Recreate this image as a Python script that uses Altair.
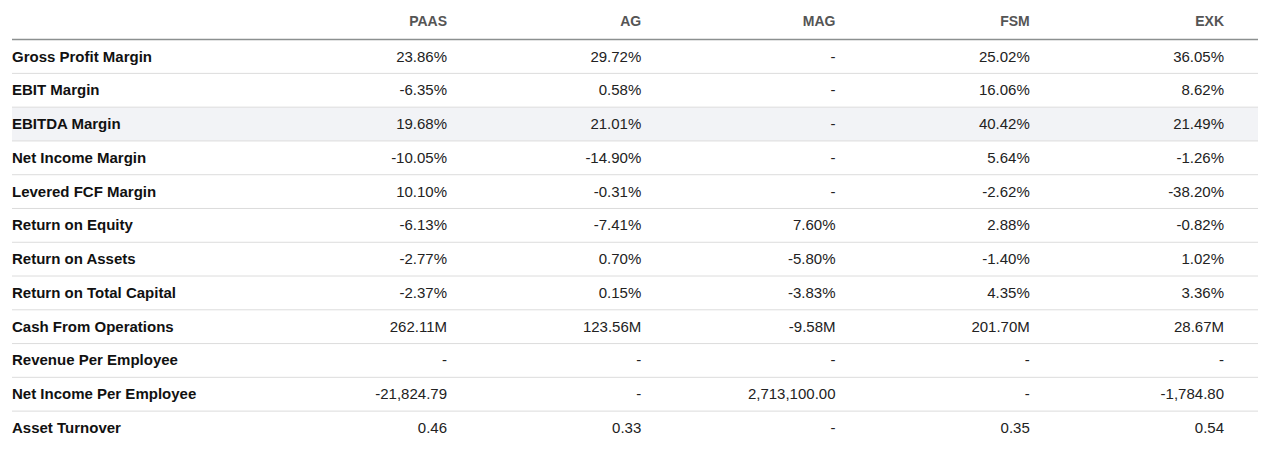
import altair as alt
import pandas as pd

tickers = ["PAAS", "AG", "MAG", "FSM", "EXK"]
metrics = [
    "Gross Profit Margin", "EBIT Margin", "EBITDA Margin", "Net Income Margin",
    "Levered FCF Margin", "Return on Equity", "Return on Assets",
    "Return on Total Capital", "Cash From Operations", "Revenue Per Employee",
    "Net Income Per Employee", "Asset Turnover",
]
paas = ["23.86%", "-6.35%", "19.68%", "-10.05%", "10.10%", "-6.13%", "-2.77%", "-2.37%", "262.11M", "-", "-21,824.79", "0.46"]
ag = ["29.72%", "0.58%", "21.01%", "-14.90%", "-0.31%", "-7.41%", "0.70%", "0.15%", "123.56M", "-", "-", "0.33"]
mag = ["-", "-", "-", "-", "-", "7.60%", "-5.80%", "-3.83%", "-9.58M", "-", "2,713,100.00", "-"]
fsm = ["25.02%", "16.06%", "40.42%", "5.64%", "-2.62%", "2.88%", "-1.40%", "4.35%", "201.70M", "-", "-", "0.35"]
exk = ["36.05%", "8.62%", "21.49%", "-1.26%", "-38.20%", "-0.82%", "1.02%", "3.36%", "28.67M", "-", "-1,784.80", "0.54"]
highlight_row = 2

columns = [paas, ag, mag, fsm, exk]
cells = pd.DataFrame([
    {"row": r, "col": c, "text": columns[c][r]}
    for c in range(len(tickers)) for r in range(len(metrics))
])
labels = pd.DataFrame({"row": list(range(len(metrics))), "text": metrics})
headers = pd.DataFrame({"col": list(range(len(tickers))), "text": tickers})
seps = pd.DataFrame({"pos": [r + 0.5 for r in range(len(metrics) - 1)]})
hl = pd.DataFrame({"y0": [highlight_row - 0.5], "y1": [highlight_row + 0.5]})
hdr_line = pd.DataFrame({"pos": [-0.5]})

W, H = 1258, 443
FONT = "Liberation Sans"
xs = alt.Scale(domain=[0, 4], range=[439, 1216])
ys = alt.Scale(domain=[0, 11], range=[48.5, 420])

band = alt.Chart(hl).mark_rect(color="#f2f3f6").encode(
    x=alt.value(4), x2=alt.value(W),
    y=alt.Y("y0:Q", scale=ys, axis=None), y2="y1:Q")

rules = alt.Chart(seps).mark_rule(color="#dcdcdc", strokeWidth=1).encode(
    x=alt.value(4), x2=alt.value(W),
    y=alt.Y("pos:Q", scale=ys, axis=None))

hrule = alt.Chart(hdr_line).mark_rule(color="#8c9090", strokeWidth=1.5).encode(
    x=alt.value(4), x2=alt.value(W),
    y=alt.Y("pos:Q", scale=ys, axis=None))

head = alt.Chart(headers).mark_text(
    align="right", baseline="middle", font=FONT, fontSize=14,
    fontWeight="bold", color="#555555").encode(
    x=alt.X("col:Q", scale=xs, axis=None), y=alt.value(13.5), text="text:N")

lab = alt.Chart(labels).mark_text(
    align="left", baseline="middle", font=FONT, fontSize=15,
    fontWeight="bold", color="#111111").encode(
    x=alt.value(4), y=alt.Y("row:Q", scale=ys, axis=None), text="text:N")

vals = alt.Chart(cells).mark_text(
    align="right", baseline="middle", font=FONT, fontSize=15,
    color="#222222").encode(
    x=alt.X("col:Q", scale=xs, axis=None),
    y=alt.Y("row:Q", scale=ys, axis=None), text="text:N")

chart = alt.layer(band, rules, hrule, head, lab, vals).properties(
    width=W - 8, height=H, padding=0, background="white",
    autosize=alt.AutoSizeParams(type="none")
).configure_view(strokeWidth=0, stroke="transparent")

chart.save("out.html", embed_options={"renderer": "svg", "actions": False})
